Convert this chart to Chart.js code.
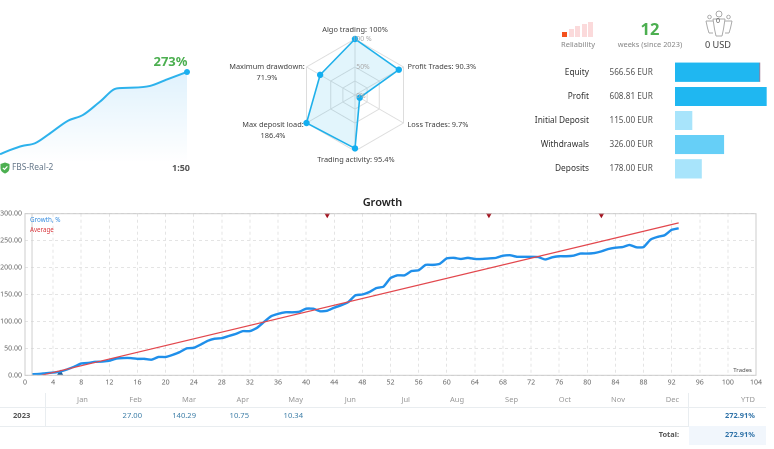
<!DOCTYPE html>
<html><head><meta charset="utf-8">
<script src="https://cdn.jsdelivr.net/npm/chart.js@4"></script>
<style>
html,body{margin:0;padding:0;background:#fff;overflow:hidden}
#page{position:relative;width:774px;height:449px;font-family:"Noto Sans",sans-serif;color:#444;filter:blur(.3px)}
#page canvas{position:absolute}
.t{position:absolute;white-space:nowrap;line-height:1}
.c{transform:translateX(-50%);text-align:center}
.r{transform:translateX(-100%)}
.ln{position:absolute;background:#e9edf0}
.ic{position:absolute}
</style></head><body><div id="page">
<canvas id="spark" style="left:0;top:60px;width:200px;height:115px" width="200" height="115"></canvas>
<canvas id="radar" style="left:265px;top:5px;width:180px;height:180px" width="180" height="180"></canvas>
<canvas id="bars" style="left:675px;top:60px;width:99px;height:120.5px" width="99" height="120"></canvas>
<canvas id="growth" style="left:0;top:205px;width:774px;height:185px" width="774" height="185"></canvas>
</div>
<script>
// ---- data ----
const sparkX=[0,10,22,35,50,68,83,100,117,133,150,167,187];
const sparkY=[32,44,56,64,93,130,147,186,225,227,232,251,273];
const radarLabels=[["Algo trading: 100%"],["Profit Trades: 90.3%"],["Loss Trades: 9.7%"],["Trading activity: 95.4%"],["Max deposit load:","186.4%"],["Maximum drawdown:","71.9%"]];
const radarValues=[100,90.3,9.7,95.4,100,71.9];
const radarTicks=[0,25,50,100];
const radarTickLabels=["0%","50%","100 %"];
const barLabels=["Equity","Profit","Initial Deposit","Withdrawals","Deposits"];
const barValues=[566.56,608.81,115,326,178];
const barTexts=["566.56 EUR","608.81 EUR","115.00 EUR","326.00 EUR","178.00 EUR"];
const barColors=["#1fb7f1","#1fb7f1","#a8e4fb","#66cff7","#a8e4fb"];
const growthValues=[2,2.5,4,5,7,11,16,22,23,25,25.5,27,31,32,32,30.5,30.5,29,34,34,38,43,50,51,57,64,68,69,73,77,82,82,88,99,109.5,114,117,117,118,123.7,123.7,118.8,120,125.6,130,136,148.5,150,154.6,162,164.5,180.6,185.6,185.6,193.6,195,205,205,207,217,218,216,218,216,216,217,218,222,223,220,220,220,219.6,215,219,221,221,222,226,226,227,230,234.5,237,238,242,237.5,238,252,257,260,270,273];
const averageX=[2.3,93];
const averageY=[0,283];
const depositX=[5];
const withdrawX=[43,66,82];
const months=["Jan","Feb","Mar","Apr","May","Jun","Jul","Aug","Sep","Oct","Nov","Dec"];
const monthValues=[null,"27.00","140.29","10.75","10.34",null,null,null,null,null,null,null];
const monthRight=[88,142,196,249,303,356,410,464,518,571,625,679];

// ---- helpers ----
const page=document.getElementById('page');
function txt(s,x,y,size,color,cls,extra){const d=document.createElement('div');d.className='t '+(cls||'');d.textContent=s;d.style.cssText=`left:${x}px;top:${y}px;font-size:${size}px;color:${color};${extra||''}`;page.appendChild(d);return d;}
function html(s){page.insertAdjacentHTML('beforeend',s);}
Chart.defaults.animation=false;
Chart.defaults.responsive=false;
Chart.defaults.devicePixelRatio=2;
Chart.defaults.font.family='"Noto Sans",sans-serif';

// ---- sparkline ----
new Chart(document.getElementById('spark'),{type:'line',
 data:{datasets:[{data:sparkX.map((x,i)=>({x,y:sparkY[i]})),borderColor:'#2db2ec',borderWidth:2,tension:.4,cubicInterpolationMode:'monotone',
  pointRadius:c=>c.dataIndex===sparkX.length-1?3:0,pointBackgroundColor:'#1cb0f0',pointBorderWidth:0,clip:false,
  fill:'origin',backgroundColor:c=>{const a=c.chart.chartArea;if(!a)return '#fff';const g=c.chart.ctx.createLinearGradient(0,a.top+12,0,a.bottom-14);g.addColorStop(0,'#e0f2fd');g.addColorStop(1,'#ffffff');return g;}}]},
 options:{layout:{padding:0,autoPadding:false},plugins:{legend:{display:false},tooltip:{enabled:false}},
  scales:{x:{type:'linear',display:false,min:0,max:200},y:{display:false,min:-29,max:308}}}});
txt('273%',187.5,55,13,'#4caf50','r','font-weight:bold;');
html('<svg class="ic" style="left:0;top:162px" width="10" height="12" viewBox="0 0 10 12"><path d="M5 0.5 L9.5 2 V6 C9.5 9 7 11 5 11.5 C3 11 .5 9 .5 6 V2 Z" fill="#4caf50"/><path d="M2.8 5.8 L4.5 7.5 L7.4 4.3" stroke="#fff" stroke-width="1.2" fill="none"/></svg>');
txt('FBS-Real-2',12,163,8.4,'#66788a');
txt('1:50',190,163,9,'#555','r','font-weight:bold;');

// ---- radar ----
new Chart(document.getElementById('radar'),{type:'radar',
 data:{labels:radarLabels,datasets:[{data:radarValues,borderColor:'#1fb0ea',borderWidth:1.6,backgroundColor:'rgba(31,176,234,.13)',pointRadius:3.2,pointBackgroundColor:'#12aef0',pointBorderWidth:0}]},
 options:{layout:{padding:34},plugins:{legend:{display:false},tooltip:{enabled:false}},
  scales:{r:{min:0,max:100,afterBuildTicks:s=>{s.ticks=radarTicks.map(v=>({value:v}));},
   pointLabels:{display:false},angleLines:{color:'#ddd'},grid:{color:'#ddd'},
   ticks:{display:false}}}}});
[[361,92.5],[363,63.5],[362,35.5]].forEach(([x,y],i)=>txt(radarTickLabels[i],x,y,6.8,'#aaa','c'));
[[355,26,'c',0],[407.5,63,'',1],[407.5,121,'',2],[356,156,'c',3],[273,121,'c',4],[267,63,'c',5]].forEach(([x,y,cl,i])=>{
 radarLabels[i].forEach((l,k)=>txt(l,x,y+k*11,7.4,'#444',cl));
});

// ---- value bars ----
new Chart(document.getElementById('bars'),{type:'bar',
 data:{labels:barLabels,datasets:[{data:barValues,backgroundColor:barColors,barPercentage:.79,categoryPercentage:1,
  borderColor:['#8a5f80','transparent','transparent','transparent','transparent'],borderSkipped:false,
  borderWidth:c=>c.dataIndex===0?{top:0,right:1,bottom:0,left:0}:0}]},
 options:{indexAxis:'y',layout:{padding:0},plugins:{legend:{display:false},tooltip:{enabled:false}},
  scales:{x:{display:false,min:0,max:657.4},y:{display:false}}}});
barLabels.forEach((l,i)=>{
 txt(l,589,67.5+i*24.1,8.3,'#333','r');
 txt(barTexts[i],609.5,67.5+i*24.1,8.2,'#555');
});

// ---- header stats ----
[[562,32,5,5,'#f4511e'],[568.5,29,5,8,'#fbdadb'],[575,26,5,11,'#fbdadb'],[581.5,24,5,13,'#fbdadb'],[588,22,5,15,'#fbdadb']].forEach(([x,y,w,h,c])=>{
 html(`<div class="ln" style="left:${x}px;top:${y}px;width:${w}px;height:${h}px;background:${c}"></div>`);
});
txt('Reliability',578,41,7.5,'#888','c');
txt('12',650,21,16.5,'#4caf50','c','font-weight:bold;');
txt('weeks (since 2023)',650,41,7.4,'#888','c');
html('<svg class="ic" style="left:704px;top:10px" width="30" height="27" viewBox="0 0 30 27" fill="none" stroke="#aaa" stroke-width="1"><circle cx="15" cy="4" r="3"/><circle cx="5.5" cy="7" r="1.8"/><circle cx="24.5" cy="7" r="1.8"/><path d="M9 9 H21 L19.5 19 L18 26 H12 L10.5 19 Z"/><path d="M9 11 L2 11 L3.5 18 L5 23 H9"/><path d="M21 11 L28 11 L26.5 18 L25 23 H21"/></svg>');
txt('0',718,17,7,'#555','c');
txt('0 USD',718,40,9.2,'#444','c');

// ---- growth ----
txt('Growth',382.5,195.5,11,'#222','c','font-weight:600;');
const frame={id:'frame',afterDraw(c){const a=c.chartArea,g=c.ctx;g.save();g.strokeStyle='#ccc';g.lineWidth=1;g.strokeRect(a.left,a.top,a.width,a.height);g.restore();}};
new Chart(document.getElementById('growth'),{type:'line',plugins:[frame],
 data:{datasets:[
  {data:[{x:1,y:0},{x:1,y:300}],borderColor:'#cfcfcf',borderWidth:1,pointRadius:0},
  {data:averageX.map((x,i)=>({x,y:averageY[i]})),borderColor:'#e2474d',borderWidth:1.2,pointRadius:0},
  {data:growthValues.map((y,i)=>({x:i+1,y})),borderColor:'#1f8fea',borderWidth:2.4,pointRadius:0,tension:.15},
  {data:depositX.map(x=>({x,y:4})),showLine:false,pointStyle:'triangle',pointRadius:3.5,pointBackgroundColor:'#245f96',pointBorderWidth:0,clip:false},
  {data:withdrawX.map(x=>({x,y:298})),showLine:false,pointStyle:'triangle',pointRotation:180,pointRadius:3.5,pointBackgroundColor:'#a3121e',pointBorderWidth:0,clip:false}
 ]},
 options:{layout:{padding:{top:8.7,right:18,bottom:0,left:0}},plugins:{legend:{display:false},tooltip:{enabled:false}},
  scales:{
   x:{type:'linear',min:0,max:104,afterFit:s=>{s.height=14.7;},border:{display:false,dash:[3,3]},
    grid:{color:'#e4e4e4',drawTicks:false},
    ticks:{stepSize:4,color:'#666',font:{size:7},padding:3,maxRotation:0,autoSkip:false}},
   y:{min:0,max:300,afterFit:s=>{s.width=25;},border:{display:false,dash:[3,3]},
    grid:{color:'#e4e4e4',drawTicks:false},
    ticks:{stepSize:50,color:'#666',font:{size:7},padding:3,callback:v=>v.toFixed(2)}}
  }}});
txt('Growth, %',30,217,6.3,'#3a8fe0');
txt('Average',30,227,6.2,'#d9383e');
txt('Trades',752,367,6,'#555','r');

// ---- returns table ----
[[0,406.5,766,1],[0,425.5,766,1]].forEach(([x,y,w,h])=>html(`<div class="ln" style="left:${x}px;top:${y}px;width:${w}px;height:${h}px"></div>`));
[[45,393,1,33],[688,393,1,33]].forEach(([x,y,w,h])=>html(`<div class="ln" style="left:${x}px;top:${y}px;width:${w}px;height:${h}px"></div>`));
html('<div class="ln" style="left:689px;top:426px;width:77px;height:19px;background:#f1f6fc"></div>');
months.forEach((m,i)=>{
 txt(m,monthRight[i],396,7.5,'#999','r');
 if(monthValues[i])txt(monthValues[i],monthRight[i],412,7.6,'#3f7fa8','r');
});
txt('YTD',755,396,7.5,'#999','r');
txt('2023',13,412,7.6,'#555','','font-weight:bold;');
txt('272.91%',755,412,7.4,'#2f72a8','r','font-weight:bold;');
txt('Total:',679,431,7.4,'#555','r','font-weight:bold;');
txt('272.91%',755,431,7.4,'#2f72a8','r','font-weight:bold;');
</script></body></html>
